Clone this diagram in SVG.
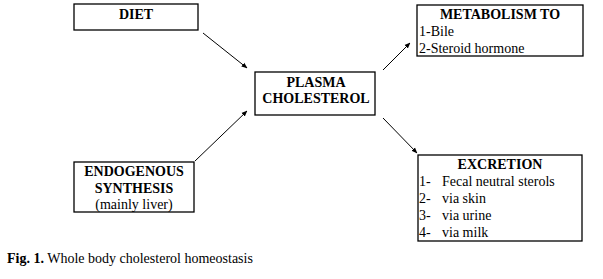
<svg xmlns="http://www.w3.org/2000/svg" width="603" height="279" viewBox="0 0 603 279">
<defs>
<style>
.box{fill:#fff;stroke:#000;stroke-width:1.3}
.t{font-size:14px;fill:#000}
.b{font-weight:bold}
.c{text-anchor:middle}
.ln{stroke:#000;stroke-width:1;fill:none;marker-end:url(#ah)}
</style>
<marker id="ah" viewBox="0 0 10 10" refX="9" refY="5" markerWidth="6" markerHeight="6" orient="auto" markerUnits="userSpaceOnUse">
<path d="M0,1 L10,5 L0,9 z" fill="#000"/>
</marker>
</defs>
<rect width="603" height="279" fill="#fff"/>
<g font-family="Liberation Serif, DejaVu Serif, serif">
<g id="diet">
<rect class="box" x="74" y="4" width="124" height="26"/>
<text class="t b c" x="136" y="19">DIET</text>
</g>
<g id="endogenous">
<rect class="box" x="74" y="162" width="120" height="50"/>
<text class="t b c" x="134" y="176">ENDOGENOUS</text>
<text class="t b c" x="134" y="193">SYNTHESIS</text>
<text class="t c" x="134" y="209">(mainly liver)</text>
</g>
<g id="plasma">
<rect class="box" x="255" y="72" width="120" height="43"/>
<text class="t b c" x="316" y="87">PLASMA</text>
<text class="t b c" x="316" y="103">CHOLESTEROL</text>
</g>
<g id="metabolism">
<rect class="box" x="417" y="5" width="166" height="51"/>
<text class="t b c" x="500" y="19">METABOLISM TO</text>
<text class="t" x="419" y="36">1-Bile</text>
<text class="t" x="419" y="53">2-Steroid hormone</text>
</g>
<g id="excretion">
<rect class="box" x="418" y="155" width="164" height="86"/>
<text class="t b c" x="500" y="169">EXCRETION</text>
<text class="t" x="419" y="186">1-</text>
<text class="t" x="442" y="186">Fecal neutral sterols</text>
<text class="t" x="419" y="203">2-</text>
<text class="t" x="442" y="203">via skin</text>
<text class="t" x="419" y="220">3-</text>
<text class="t" x="442" y="220">via urine</text>
<text class="t" x="419" y="237">4-</text>
<text class="t" x="442" y="237">via milk</text>
</g>
<text class="t" x="7" y="263"><tspan class="b">Fig. 1.</tspan> Whole body cholesterol homeostasis</text>
</g>
<g id="connectors">
<line class="ln" x1="203" y1="33" x2="247" y2="68"/>
<line class="ln" x1="195" y1="161" x2="247" y2="111"/>
<line class="ln" x1="383" y1="70" x2="410" y2="43"/>
<line class="ln" x1="383" y1="118" x2="417" y2="153"/>
</g>
</svg>
